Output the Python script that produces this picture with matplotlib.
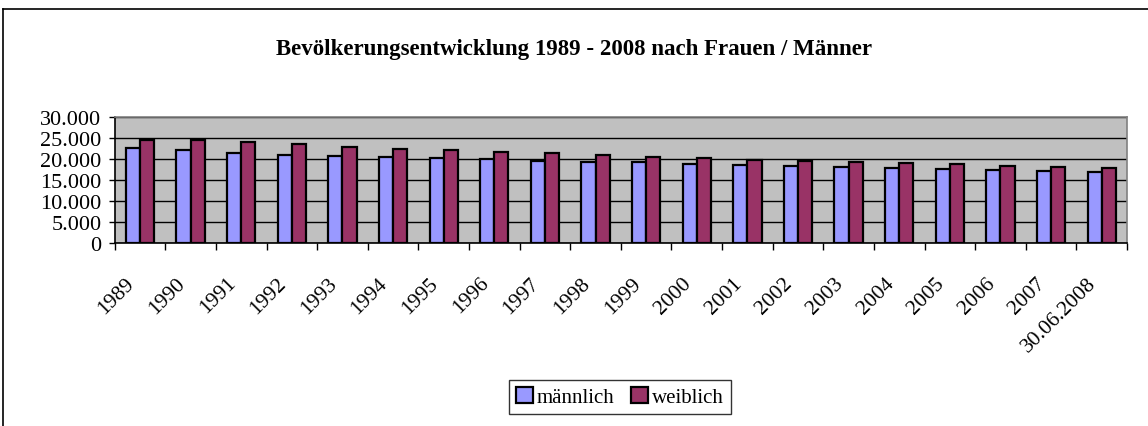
import matplotlib
matplotlib.use('Agg')
import matplotlib.pyplot as plt
import matplotlib.transforms as mtransforms
import numpy as np
from matplotlib.ticker import FuncFormatter

# Bevölkerung nach Geschlecht, 1989 - 30.06.2008
jahre = ['1989', '1990', '1991', '1992', '1993', '1994', '1995', '1996', '1997', '1998',
         '1999', '2000', '2001', '2002', '2003', '2004', '2005', '2006', '2007', '30.06.2008']
maennlich = [22560, 22160, 21500, 21050, 20800, 20450, 20280, 19950, 19600, 19400,
             19200, 18900, 18600, 18300, 18120, 17900, 17650, 17500, 17170, 17000]
weiblich = [24600, 24500, 24060, 23600, 22950, 22400, 22160, 21760, 21450, 20970,
            20570, 20260, 19860, 19550, 19240, 19000, 18760, 18430, 18200, 17960]

plt.rcParams['font.family'] = ['Liberation Serif', 'DejaVu Serif']

W, H = 1148, 427
fig = plt.figure(figsize=(W / 100, H / 100), dpi=100, facecolor='white')

# Rahmen (nur oben/links sichtbar, Rest ausserhalb des Bildes)
fig.add_artist(plt.Line2D([3 / W, 3 / W], [0, 1 - 10 / H], color='black', lw=1.2))
fig.add_artist(plt.Line2D([3 / W, 1], [1 - 10 / H, 1 - 10 / H], color='black', lw=1.2))

fig.text(573.5 / W, 1 - 50 / H, 'Bevölkerungsentwicklung 1989 - 2008 nach Frauen / Männer',
         ha='center', va='center', fontsize=16.5, fontweight='bold')

ax = fig.add_axes([114.7 / W, 1 - 244.3 / H, 1012.3 / W, 126.3 / H])
ax.set_facecolor('#C0C0C0')
x = np.arange(len(jahre))
bw = 0.28
ax.bar(x - bw / 2, maennlich, bw, color='#9999FF', edgecolor='black', lw=1.6, label='männlich', zorder=3)
ax.bar(x + bw / 2, weiblich, bw, color='#993366', edgecolor='black', lw=1.6, label='weiblich', zorder=3)
ax.set_xlim(-0.5, len(jahre) - 0.5)
ax.set_ylim(0, 30000)
ax.set_yticks(range(0, 30001, 5000))
ax.yaxis.set_major_formatter(FuncFormatter(lambda v, p: f'{v:,.0f}'.replace(',', '.')))
ax.grid(axis='y', color='black', lw=1, zorder=1)
ax.set_axisbelow(True)

# Ticks an den Kategoriegrenzen, Beschriftung schräg unter der Mitte
ax.set_xticks(np.arange(len(jahre) + 1) - 0.5)
ax.set_xticklabels([])
ax.tick_params(axis='x', length=5, width=1, direction='out', color='black')
off = mtransforms.ScaledTranslation(-15 / 100, -30 / 100, fig.dpi_scale_trans)
tr = ax.get_xaxis_transform() + off
for xi, lab in zip(x, jahre):
    ax.text(xi, 0, lab, transform=tr, rotation=45, ha='right', va='top',
            rotation_mode='anchor', fontsize=15.5, clip_on=False)

ax.tick_params(axis='y', length=4.5, width=1, labelsize=16, pad=5)
for s in ['top', 'right']:
    ax.spines[s].set_color('#808080'); ax.spines[s].set_linewidth(1.2)
for s in ['left', 'bottom']:
    ax.spines[s].set_color('black'); ax.spines[s].set_linewidth(1.2)

leg = fig.legend(loc='center', bbox_to_anchor=(620 / W, 1 - 398 / H), ncol=2, fontsize=15,
                 frameon=True, fancybox=False, edgecolor='black', handlelength=0.8, handleheight=0.8,
                 handletextpad=0.2, columnspacing=0.8, borderpad=0.35)
leg.get_frame().set_linewidth(1)

fig.savefig('out.png', dpi=100, facecolor='white')
